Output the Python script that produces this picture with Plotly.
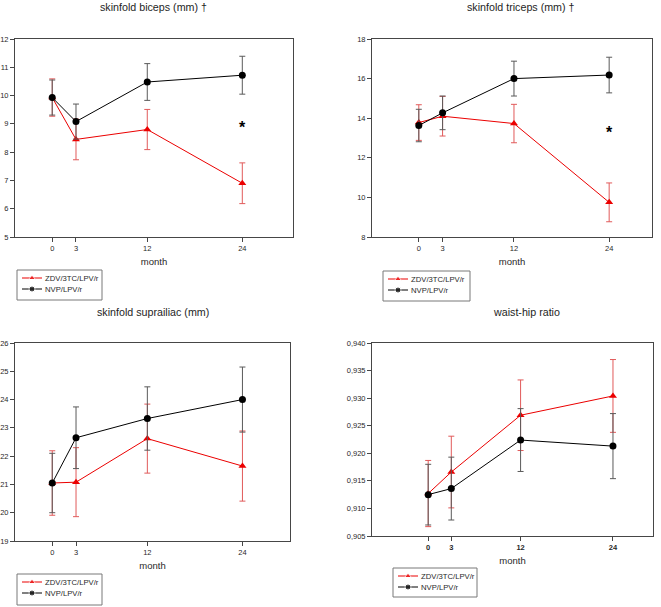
import plotly.graph_objects as go

W, H = 661, 607

months = [0, 3, 12, 24]
series_names = ["ZDV/3TC/LPV/r", "NVP/LPV/r"]

# skinfold biceps
biceps_red = [9.93, 8.45, 8.80, 6.90]
biceps_red_err = [0.66, 0.72, 0.71, 0.72]
biceps_black = [9.93, 9.08, 10.48, 10.72]
biceps_black_err = [0.62, 0.62, 0.65, 0.67]

# skinfold triceps
triceps_red = [13.78, 14.10, 13.73, 9.75]
triceps_red_err = [0.90, 1.00, 0.97, 0.98]
triceps_black = [13.63, 14.27, 16.00, 16.18]
triceps_black_err = [0.82, 0.85, 0.88, 0.90]

# skinfold suprailiac
supra_red = [21.05, 21.08, 22.62, 21.65]
supra_red_err = [1.14, 1.22, 1.22, 1.24]
supra_black = [21.05, 22.65, 23.33, 24.00]
supra_black_err = [1.05, 1.09, 1.12, 1.15]

# waist-hip ratio
whr_red = [0.9127, 0.9166, 0.9269, 0.9304]
whr_red_err = [0.0060, 0.0065, 0.0064, 0.0066]
whr_black = [0.9125, 0.9136, 0.9224, 0.9213]
whr_black_err = [0.0055, 0.0057, 0.0057, 0.0059]

whr_ticks = [0.905, 0.910, 0.915, 0.920, 0.925, 0.930, 0.935, 0.940]
whr_ticktext = ["0,905", "0,910", "0,915", "0,920", "0,925", "0,930", "0,935", "0,940"]

red = "rgb(235,0,0)"
red_err = "rgb(225,90,90)"
black = "rgb(0,0,0)"
black_err = "rgb(90,90,90)"
axis_col = "rgb(70,70,70)"
text_col = "rgb(40,40,40)"
FONT = "Liberation Sans, Arial, sans-serif"


def px_x(p):
    return p / W


def px_y(p):
    return 1 - p / H


# panel boxes in pixels: (left, right, top, bottom); legend boxes: (left, top, width, height)
panels = [
    dict(box=(15, 293, 39, 237), xr=[-4.7, 30.4], yr=[5, 12], ticks=list(range(5, 13)), tt=None,
         title="skinfold biceps (mm) †", tx=153, ty=7,
         red=biceps_red, rerr=biceps_red_err, blk=biceps_black, berr=biceps_black_err,
         star=8.88, leg=(17, 270, 85, 30), bold=False),
    dict(box=(372, 652, 39, 237), xr=[-5.9, 29.4], yr=[8, 18], ticks=list(range(8, 19, 2)), tt=None,
         title="skinfold triceps (mm) †", tx=521, ty=7,
         red=triceps_red, rerr=triceps_red_err, blk=triceps_black, berr=triceps_black_err,
         star=13.3, leg=(383, 271, 87, 30), bold=False),
    dict(box=(15, 290, 343, 541), xr=[-4.7, 30.0], yr=[19, 26], ticks=list(range(19, 27)), tt=None,
         title="skinfold suprailiac (mm)", tx=153, ty=312,
         red=supra_red, rerr=supra_red_err, blk=supra_black, berr=supra_black_err,
         star=None, leg=(17, 574, 85, 31), bold=False),
    dict(box=(372, 653, 343, 536), xr=[-7.3, 29.2], yr=[0.905, 0.940], ticks=whr_ticks, tt=whr_ticktext,
         title="waist-hip ratio", tx=526, ty=312,
         red=whr_red, rerr=whr_red_err, blk=whr_black, berr=whr_black_err,
         star=None, leg=(393, 568, 84, 29), bold=True),
]

fig = go.Figure()
layout = dict(width=W, height=H, margin=dict(l=0, r=0, t=0, b=0),
              paper_bgcolor="white", plot_bgcolor="rgba(0,0,0,0)",
              font=dict(family=FONT, color=text_col),
              showlegend=False, hovermode=False)
annotations = []
shapes = []

# overlay axis in pixel units for the boxed legends
layout["xaxis5"] = dict(domain=[0, 1], range=[0, W], visible=False, fixedrange=True, anchor="y5")
layout["yaxis5"] = dict(domain=[0, 1], range=[H, 0], visible=False, fixedrange=True, anchor="x5")

for i, p in enumerate(panels):
    n = "" if i == 0 else str(i + 1)
    xa, ya = "x" + n, "y" + n
    l, r, t, b = p["box"]

    fig.add_trace(go.Scatter(
        x=months, y=p["red"], xaxis=xa, yaxis=ya, name=series_names[0],
        mode="lines+markers",
        line=dict(color=red, width=1),
        marker=dict(symbol="triangle-up", size=7, color=red),
        error_y=dict(type="data", array=p["rerr"], color=red_err, thickness=1, width=3),
    ))
    fig.add_trace(go.Scatter(
        x=months, y=p["blk"], xaxis=xa, yaxis=ya, name=series_names[1],
        mode="lines+markers",
        line=dict(color=black, width=1),
        marker=dict(symbol="circle", size=7, color=black),
        error_y=dict(type="data", array=p["berr"], color=black_err, thickness=1, width=3),
    ))

    tickfont = dict(size=7.5, color=text_col)
    layout["xaxis" + n] = dict(
        domain=[px_x(l), px_x(r)], anchor=ya, range=p["xr"], automargin=False,
        tickvals=months,
        ticktext=[f"<b>{m}</b>" for m in months] if p["bold"] else [str(m) for m in months],
        ticks="outside", ticklen=4, tickcolor=axis_col, tickfont=tickfont,
        showline=True, linecolor=axis_col, linewidth=1, mirror=True,
        showgrid=False, zeroline=False,
        title=dict(text="month", font=dict(size=9.5, color=text_col), standoff=6),
    )
    layout["yaxis" + n] = dict(
        domain=[px_y(b), px_y(t)], anchor=xa, range=p["yr"], automargin=False,
        tickvals=p["ticks"], ticktext=p["tt"] if p["tt"] else [str(v) for v in p["ticks"]],
        ticks="outside", ticklen=4, tickcolor=axis_col, tickfont=tickfont,
        showline=True, linecolor=axis_col, linewidth=1, mirror=True,
        showgrid=False, zeroline=False,
    )
    annotations.append(dict(
        xref="paper", yref="paper", x=px_x(p["tx"]), y=px_y(p["ty"]),
        xanchor="center", yanchor="middle", text=p["title"], showarrow=False,
        font=dict(size=10.7, color="rgb(30,30,30)"),
    ))
    if p["star"] is not None:
        annotations.append(dict(
            xref=xa, yref=ya, x=24, y=p["star"], text="<b>*</b>", showarrow=False,
            font=dict(size=16, color="black"),
        ))

    # boxed legend
    gl, gt, gw, gh = p["leg"]
    shapes.append(dict(type="rect", xref="x5", yref="y5", x0=gl, x1=gl + gw, y0=gt, y1=gt + gh,
                       line=dict(color="rgb(120,120,120)", width=1)))
    for k, (col, sym, nm) in enumerate([(red, "triangle-up", series_names[0]),
                                        (black, "circle", series_names[1])]):
        ry = gt + 8 + k * 11
        fig.add_trace(go.Scatter(
            x=[gl + 5, gl + 15, gl + 25], y=[ry, ry, ry], xaxis="x5", yaxis="y5",
            mode="lines+markers", hoverinfo="skip",
            line=dict(color=col, width=1),
            marker=dict(symbol=sym, size=[0, 6, 0], color=col),
        ))
        annotations.append(dict(
            xref="x5", yref="y5", x=gl + 26, y=ry, xanchor="left", yanchor="middle",
            text=nm, showarrow=False, font=dict(size=7.7, color=text_col),
        ))

layout["annotations"] = annotations
layout["shapes"] = shapes
fig.update_layout(**layout)

fig.write_html("out.html", config={"displayModeBar": False},
               post_script="document.body.style.margin='0';")
